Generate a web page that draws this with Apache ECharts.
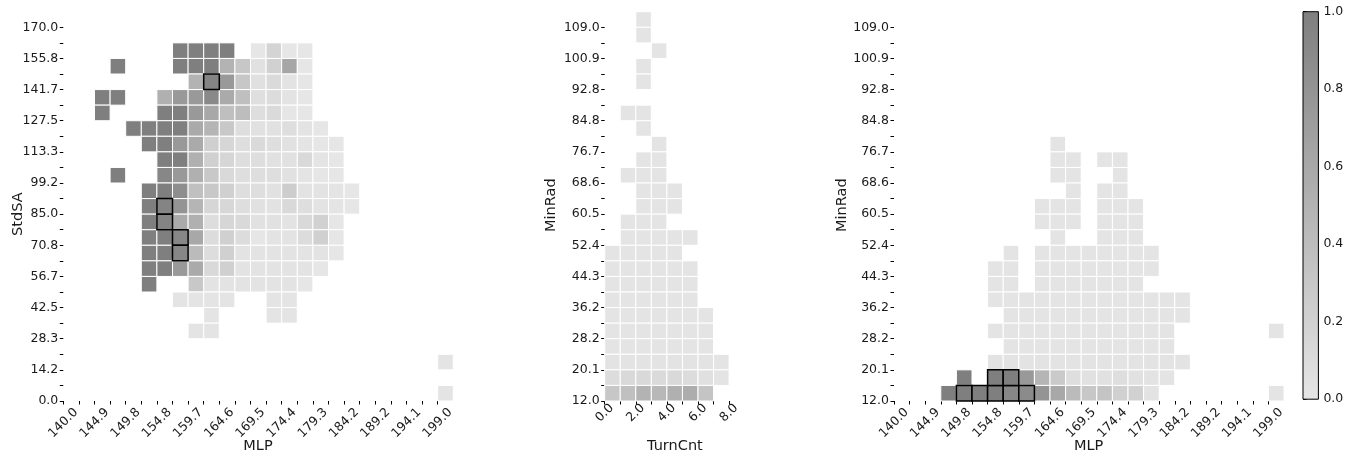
<!DOCTYPE html>
<html>
<head>
<meta charset="utf-8">
<script src="https://cdn.jsdelivr.net/npm/echarts@6/dist/echarts.min.js"></script>
<style>
html,body{margin:0;padding:0;background:#fff;}
#c{width:1356px;height:459px;}
</style>
</head>
<body>
<div id="c"></div>
<script>
// ---- tick labels ----
const mlpTicks = ['140.0','144.9','149.8','154.8','159.7','164.6','169.5','174.4','179.3','184.2','189.2','194.1','199.0'];
const stdSATicks = ['0.0','14.2','28.3','42.5','56.7','70.8','85.0','99.2','113.3','127.5','141.7','155.8','170.0'];
const minRadTicks = ['12.0','20.1','28.2','36.2','44.3','52.4','60.5','68.6','76.7','84.8','92.8','100.9','109.0'];
const turnCntTicks = ['0.0','2.0','4.0','6.0','8.0'];
const colorbarTicks = ['0.0','0.2','0.4','0.6','0.8','1.0'];

// ---- cell values: [row bin, first column bin, values (null = empty)] ----
const leftRows = [
  [22, 7, [1,1,1,1,null,0,0.17,0,0]],
  [21, 3, [1,null,null,null,1,1,1,0.5,0.3,0.05,0.2,0.62,0]],
  [20, 8, [0.5,0.95,0.75,0.3,0.06,0.12,0.03,0]],
  [19, 2, [1,1,null,null,0.52,0.75,0.75,0.9,0.58,0.38,0.07,0.1,0.03,0]],
  [18, 2, [1,null,null,null,1,1,0.75,0.6,0.38,0.4,0.08,0.12,0,0]],
  [17, 4, [1,1,1,1,0.58,0.48,0.29,0.08,0.05,0.05,0.08,0.03,0]],
  [16, 5, [1,1,0.75,0.58,0.21,0.16,0.08,0.12,0.08,0.05,0.02,0,0]],
  [15, 6, [1,1,0.52,0.21,0.16,0.08,0.08,0.05,0.05,0.13,0.02,0]],
  [14, 3, [1,null,null,0.92,0.75,0.52,0.29,0.13,0.08,0.08,0.08,0.05,0.02,0,0]],
  [13, 5, [1,1,0.85,0.37,0.29,0.21,0.08,0.08,0.05,0.24,0.03,0.03,0.02,0]],
  [12, 5, [1,0.95,0.8,0.48,0.16,0.15,0.08,0.05,0.04,0.13,0.08,0.03,0.02,0]],
  [11, 5, [1,0.95,0.58,0.52,0.09,0.16,0.13,0.05,0.05,0.03,0.13,0.2,0]],
  [10, 5, [1,1,0.92,0.6,0.1,0.21,0.1,0,0.03,0.03,0.1,0.21,0]],
  [9, 5, [1,1,0.92,0.42,0.09,0.21,0.03,0.03,0.03,0.03,0.03,0.03,0]],
  [8, 5, [1,1,0.75,0.58,0.13,0.21,0.03,0.03,0.03,0.03,0.03,0]],
  [7, 5, [1,null,null,0.29,0.03,0.03,0.03,0.03,0.03,0.03,0]],
  [6, 7, [0.02,0.02,0.02,0.02,null,null,0.02,0.02]],
  [5, 9, [0.02,null,null,null,0.02,0.02]],
  [4, 8, [0.02,0.02]],
  [2, 24, [0.02]],
  [0, 24, [0.02]]
];
const leftOutlined = [[9,20],[6,12],[6,11],[7,10],[7,9]];

const midRows = [
  [24, 2, [0.02]],
  [23, 2, [0.02]],
  [22, 3, [0.02]],
  [21, 2, [0.02]],
  [20, 2, [0.02]],
  [18, 1, [0.02,0.02]],
  [17, 2, [0.02]],
  [16, 3, [0.02]],
  [15, 2, [0.02,0.02]],
  [14, 1, [0.02,0.02,0.02]],
  [13, 2, [0.02,0.02,0.02]],
  [12, 2, [0.02,0.02,0.02]],
  [11, 1, [0.02,0.02,0.02]],
  [10, 1, [0.02,0.02,0.02,0.02,0.02]],
  [9, 0, [0.02,0.02,0.02,0.02,0.02]],
  [8, 0, [0.02,0.02,0.02,0.02,0.02,0.02]],
  [7, 0, [0.02,0.02,0.02,0.02,0.02,0.02]],
  [6, 0, [0.02,0.02,0.02,0.02,0.02,0.02]],
  [5, 0, [0.02,0.02,0.02,0.02,0.02,0.02,0.02]],
  [4, 0, [0.02,0.02,0.02,0.02,0.02,0.02,0.02]],
  [3, 0, [0.02,0.02,0.02,0.02,0.02,0.02,0.02]],
  [2, 0, [0.03,0.03,0.03,0.03,0.03,0.03,0.03,0.02]],
  [1, 0, [0.1,0.13,0.13,0.12,0.13,0.1,0.06,0.02]],
  [0, 0, [0.3,0.37,0.5,0.45,0.52,0.55,0.33]]
];
const midOutlined = [];

const rightRows = [
  [16, 10, [0.02]],
  [15, 10, [0.02,0.02,null,0.02,0.02]],
  [14, 10, [0.02,0.02,null,null,0.02]],
  [13, 11, [0.02,null,0.02,0.02]],
  [12, 9, [0.02,0.02,0.02,null,0.02,0.02,0.02]],
  [11, 9, [0.02,0.02,0.02,null,0.02,0.02,0.02]],
  [10, 10, [0.02,null,null,0.02,0.02,0.02]],
  [9, 7, [0.02,null,0.02,0.02,0.02,0.02,0.02,0.02,0.02,0.02]],
  [8, 6, [0.02,0.02,null,0.02,0.02,0.02,0.02,0.02,0.02,0.02,0.02]],
  [7, 6, [0.02,0.02,null,0.02,0.02,0.02,0.02,0.02,0.02,0.02]],
  [6, 6, [0.02,0.02,0.02,0.02,0.02,0.02,0.02,0.02,0.02,0.02,0.02,0.02,0.02]],
  [5, 7, [0.02,0.02,0.02,0.02,0.02,0.02,0.02,0.02,0.02,0.02,0.02,0.02]],
  [4, 6, [0.02,0.02,0.02,0.02,0.02,0.02,0.02,0.02,0.02,0.02,0.02,0.02]],
  [4, 24, [0.02]],
  [3, 7, [0.02,0.02,0.02,0.02,0.02,0.02,0.02,0.02,0.02,0.02,0.02]],
  [2, 6, [0.03,0.03,0.03,0.03,0.03,0.03,0.03,0.03,0.03,0.03,0.03,0.03,0.03]],
  [1, 4, [1,null,1,1,0.75,0.48,0.27,0.08,0.05,0.05,0.08,0.05,0.03,0.02]],
  [0, 3, [1,1,1,1,0.92,0.88,0.8,0.6,0.42,0.3,0.33,0.21,0.2,0.03]],
  [0, 24, [0.02]]
];
const rightOutlined = [[4,0],[5,0],[6,0],[7,0],[8,0],[6,1],[7,1]];

// ---- build helpers ----
function expand(rows){
  const out = [];
  rows.forEach(([r, c0, vals]) => vals.forEach((v, i) => { if (v !== null) out.push([c0 + i, r, v]); }));
  return out;
}
function outlinedData(cells, list){
  return list.map(([c, r]) => cells.find(d => d[0] === c && d[1] === r)).filter(Boolean);
}
const leftCells = expand(leftRows), midCells = expand(midRows), rightCells = expand(rightRows);

function cellRender(outline){
  return function(params, api){
    const c = api.value(0), r = api.value(1);
    const p0 = api.coord([c, r]);
    const p1 = api.coord([c + 1, r + 1]);
    return {
      type: 'rect',
      shape: { x: p0[0], y: p1[1], width: p1[0] - p0[0], height: p0[1] - p1[1] },
      style: outline
        ? { fill: api.visual('color'), stroke: '#000', lineWidth: 1.5 }
        : { fill: api.visual('color'), stroke: '#fff', lineWidth: 1 }
    };
  };
}

const FONT = 'DejaVu Sans';
const TXT = '#1a1a1a';
const tickStyle = { show: true, length: 3.5, lineStyle: { color: '#000', width: 1 } };
const minorStyle = { show: true, splitNumber: 2, length: 3.5, lineStyle: { color: '#000', width: 1 } };

function xAxisCfg(grid, max, labels, name, margin, pad){
  return {
    gridIndex: grid, type: 'value', min: 0, max: max, interval: 2,
    axisLine: { show: false }, splitLine: { show: false },
    axisTick: tickStyle, minorTick: minorStyle, minorSplitLine: { show: false },
    axisLabel: {
      rotate: 45, align: 'center', verticalAlign: 'middle', margin: margin,
      fontFamily: FONT, fontSize: 12.5, color: TXT, hideOverlap: false,
      formatter: v => labels[Math.round(v / 2)]
    },
    name: name, nameLocation: 'middle', nameGap: 38, nameMoveOverlap: false,
    nameTextStyle: { fontFamily: FONT, fontSize: 14.5, color: TXT, padding: [0, 0, 0, pad] }
  };
}
function yAxisCfg(grid, labels, name, gap, pad){
  return {
    gridIndex: grid, type: 'value', min: 0, max: 24, interval: 2,
    axisLine: { show: false }, splitLine: { show: false },
    axisTick: tickStyle, minorTick: minorStyle, minorSplitLine: { show: false },
    axisLabel: {
      margin: 5, fontFamily: FONT, fontSize: 12.5, color: TXT,
      formatter: v => labels[Math.round(v / 2)]
    },
    name: name, nameLocation: 'middle', nameGap: gap, nameRotate: 90, nameMoveOverlap: false,
    nameTextStyle: { fontFamily: FONT, fontSize: 14.5, color: TXT, padding: [0, 0, 0, pad] }
  };
}

const gridBase = { containLabel: false, outerBoundsMode: 'none' };
const chart = echarts.init(document.getElementById('c'), null, { renderer: 'canvas' });
chart.setOption({
  animation: false,
  backgroundColor: '#fff',
  grid: [
    Object.assign({ left: 63.3, top: 27.3, width: 374.4, height: 373.7 }, gridBase),
    Object.assign({ left: 604.7, top: 27.3, width: 124.4, height: 373.7 }, gridBase),
    Object.assign({ left: 894, top: 27.3, width: 374.4, height: 373.7 }, gridBase),
    Object.assign({ left: 1303, top: 11.7, width: 15.4, height: 387.5 }, gridBase)
  ],
  xAxis: [
    xAxisCfg(0, 24, mlpTicks, 'MLP', 22, 15),
    xAxisCfg(1, 8, turnCntTicks, 'TurnCnt', 12, 16),
    xAxisCfg(2, 24, mlpTicks, 'MLP', 22, 15),
    { gridIndex: 3, type: 'value', min: 0, max: 1, show: false }
  ],
  yAxis: [
    yAxisCfg(0, stdSATicks, 'StdSA', 38, 0),
    yAxisCfg(1, minRadTicks, 'MinRad', 46, 18),
    yAxisCfg(2, minRadTicks, 'MinRad', 44, 18),
    {
      gridIndex: 3, type: 'value', min: 0, max: 1, interval: 0.2, position: 'right',
      axisLine: { show: false }, splitLine: { show: false },
      axisTick: { show: true, length: 3.5, lineStyle: { color: '#000' } },
      axisLabel: { margin: 5, fontFamily: FONT, fontSize: 12.5, color: TXT,
        formatter: v => colorbarTicks[Math.round(v * 5)] }
    }
  ],
  visualMap: {
    type: 'continuous', show: false, min: 0, max: 1, dimension: 2,
    seriesIndex: [0, 1, 2, 3, 4, 5],
    inRange: { color: ['#e6e6e6', '#7f7f7f'] }
  },
  series: [
    { type: 'custom', xAxisIndex: 0, yAxisIndex: 0, data: leftCells, renderItem: cellRender(false), clip: false },
    { type: 'custom', xAxisIndex: 1, yAxisIndex: 1, data: midCells, renderItem: cellRender(false), clip: false },
    { type: 'custom', xAxisIndex: 2, yAxisIndex: 2, data: rightCells, renderItem: cellRender(false), clip: false },
    { type: 'custom', xAxisIndex: 0, yAxisIndex: 0, data: outlinedData(leftCells, leftOutlined), renderItem: cellRender(true), clip: false, z: 5 },
    { type: 'custom', xAxisIndex: 1, yAxisIndex: 1, data: outlinedData(midCells, midOutlined), renderItem: cellRender(true), clip: false, z: 5 },
    { type: 'custom', xAxisIndex: 2, yAxisIndex: 2, data: outlinedData(rightCells, rightOutlined), renderItem: cellRender(true), clip: false, z: 5 },
    {
      type: 'custom', xAxisIndex: 3, yAxisIndex: 3, data: [[0, 0, 1, 1]], clip: false,
      renderItem: function(params, api){
        const p0 = api.coord([api.value(0), api.value(1)]);
        const p1 = api.coord([api.value(2), api.value(3)]);
        return {
          type: 'rect',
          shape: { x: p0[0], y: p1[1], width: p1[0] - p0[0], height: p0[1] - p1[1] },
          style: {
            fill: new echarts.graphic.LinearGradient(0, 0, 0, 1, [
              { offset: 0, color: '#7f7f7f' }, { offset: 1, color: '#e6e6e6' }
            ]),
            stroke: '#000', lineWidth: 1
          }
        };
      }
    }
  ]
});
</script>
</body>
</html>
